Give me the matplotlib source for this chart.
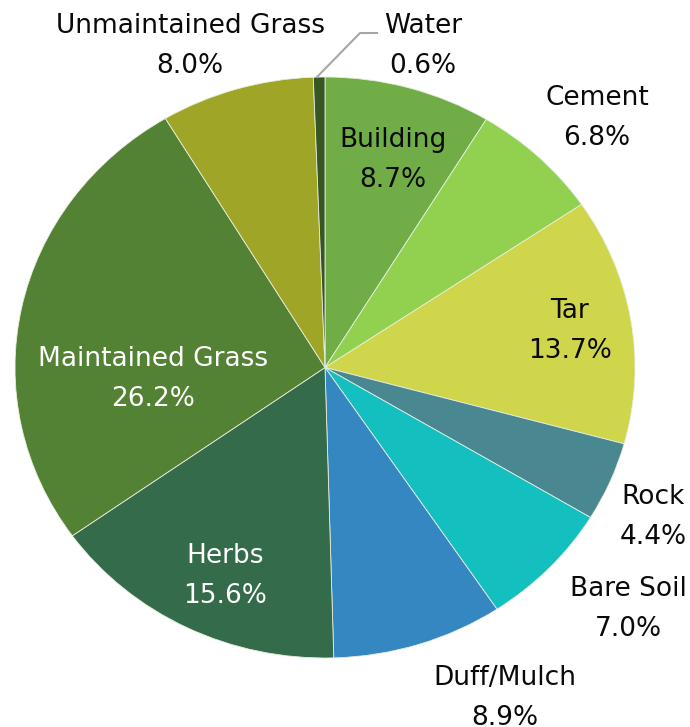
import matplotlib
matplotlib.use("Agg")
import matplotlib.pyplot as plt
from matplotlib.lines import Line2D

categories = ["Building", "Cement", "Tar", "Rock", "Bare Soil", "Duff/Mulch",
              "Herbs", "Maintained Grass", "Unmaintained Grass", "Water"]
values = [8.7, 6.8, 13.7, 4.4, 7.0, 8.9, 15.6, 26.2, 8.0, 0.6]
colors = ["#70AD47", "#92D050", "#CFD64C", "#4A8891", "#13BFBF", "#3587C1",
          "#336B4B", "#548235", "#9FA627", "#375623"]
text_colors = ["#0A0A0A", "#0A0A0A", "#0A0A0A", "#0A0A0A", "#0A0A0A", "#0A0A0A",
               "white", "white", "#0A0A0A", "#0A0A0A"]
# label centres in pixels (x, cap-centre y of first line)
label_pos = [(393, 138), (597, 96), (570, 309), (653, 495), (628, 587),
             (505, 676), (225, 554), (153, 357), (190, 24), (423, 24)]

W, H = 690, 727
fig = plt.figure(figsize=(W / 100, H / 100), dpi=100)
left, right, top, bottom = 15, 635, 77, 658
ax = fig.add_axes([left / W, 1 - bottom / H, (right - left) / W, (bottom - top) / H])
ax.pie(values, colors=colors, startangle=90, counterclock=False,
       wedgeprops=dict(edgecolor="#E8EEE0", linewidth=0.6))
ax.set_aspect("auto")
ax.set_xlim(-1, 1)
ax.set_ylim(-1, 1)
ax.axis("off")

font = "DejaVu Sans"
fs = 19
for cat, v, (px, py), tc in zip(categories, values, label_pos, text_colors):
    fig.text(px / W, 1 - (py + 9) / H, cat, ha="center", va="baseline",
             fontsize=fs, color=tc, family=font)
    fig.text(px / W, 1 - (py + 49) / H, f"{v:.1f}%", ha="center", va="baseline",
             fontsize=fs, color=tc, family=font)

# leader line for Water
xs = [317 / W, 360 / W, 377 / W]
ys = [1 - 77 / H, 1 - 33 / H, 1 - 33 / H]
fig.add_artist(Line2D(xs, ys, color="#A6A6A6", linewidth=1.5))

fig.savefig("out.png", dpi=100)
